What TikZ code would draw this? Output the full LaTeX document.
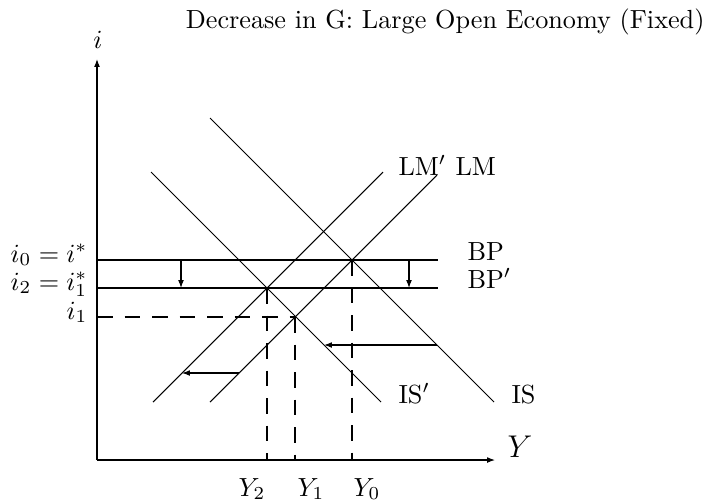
\documentclass[tikz,border=0pt]{standalone}
\usetikzlibrary{arrows.meta}
\begin{document}
\begin{tikzpicture}[x=0.3817pt,y=-0.3817pt,
  arr/.style={-{Latex[length=3pt,width=2.2pt]}},
  guide/.style={dash pattern=on 6pt off 4.5pt},
  lbl/.style={inner sep=0pt}]
\useasboundingbox (0,0) rectangle (710,502);
% axes
\coordinate (O) at (97,460);
\coordinate (yTop) at (97,59);
\coordinate (xEnd) at (495,460);
\draw[arr] (O) -- (yTop);
\draw[arr] (O) -- (xEnd);
\node[lbl, anchor=base] (ilab) at (98,48) {$i$};
\node[lbl, anchor=base west] (Ylab) at (507,457) {\large$Y$};
% title
\node[lbl, anchor=base east] (title) at (705,28) {Decrease in G: Large Open Economy (Fixed)};
% curve end points
\coordinate (ISa) at (210,118);  \coordinate (ISb) at (494,402);
\coordinate (ISpa) at (151,172); \coordinate (ISpb) at (381,402);
\coordinate (LMa) at (210,402);  \coordinate (LMb) at (437,175);
\coordinate (LMpa) at (153,402); \coordinate (LMpb) at (383,172);
\coordinate (BPa) at (97,260);   \coordinate (BPb) at (438,260);
\coordinate (BPpa) at (97,288);  \coordinate (BPpb) at (438,288);
\draw (ISa) -- (ISb);
\draw (ISpa) -- (ISpb);
\draw (LMa) -- (LMb);
\draw (LMpa) -- (LMpb);
\draw (BPa) -- (BPb);
\draw (BPpa) -- (BPpb);
% curve labels
\node[lbl, anchor=base west] (ISl) at (511,403) {IS};
\node[lbl, anchor=base west] (ISpl) at (398,403) {IS$'$};
\node[lbl, anchor=base west] (LMpl) at (398,175) {LM$'$};
\node[lbl, anchor=base west] (LMl) at (455,175) {LM};
\node[lbl, anchor=base west] (BPl) at (467,260) {BP};
\node[lbl, anchor=base west] (BPpl) at (467,288) {BP$'$};
% shift arrows
\coordinate (d1a) at (181,260); \coordinate (d1b) at (181,288);
\coordinate (d2a) at (409,260); \coordinate (d2b) at (409,288);
\coordinate (h1a) at (437,345); \coordinate (h1b) at (324,345);
\coordinate (h2a) at (239,373); \coordinate (h2b) at (182,373);
\draw[arr] (d1a) -- (d1b);
\draw[arr] (d2a) -- (d2b);
\draw[arr] (h1a) -- (h1b);
\draw[arr] (h2a) -- (h2b);
% equilibria and guides
\coordinate (E0) at (352,260);
\coordinate (E1) at (295,317);
\coordinate (E2) at (267,288);
\coordinate (Y0) at (352,460);
\coordinate (Y1) at (295,460);
\coordinate (Y2) at (267,460);
\coordinate (i1) at (97,317);
\draw[guide] (i1) -- (E1);
\draw[guide] (E0) -- (Y0);
\draw[guide] (E1) -- (Y1);
\draw[guide] (E2) -- (Y2);
% axis labels
\node[lbl, anchor=base east] (i0l) at (88,262) {$i_0=i^*$};
\node[lbl, anchor=base east] (i2l) at (88,290) {$i_2=i^*_1$};
\node[lbl, anchor=base east] (i1l) at (88,319) {$i_1$};
\node[lbl, anchor=base east] (Y2l) at (266,496) {$Y_2$};
\node[lbl, anchor=base west] (Y1l) at (297,496) {$Y_1$};
\node[lbl, anchor=base west] (Y0l) at (353,496) {$Y_0$};
\end{tikzpicture}
\end{document}
